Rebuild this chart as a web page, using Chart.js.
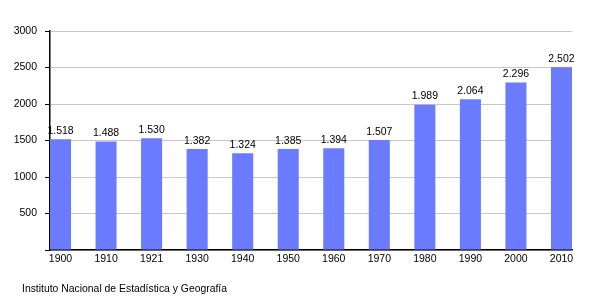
<!DOCTYPE html>
<html>
    <head>
        <title>Población</title>
        <meta charset="utf-8">
        <style>
            body { margin: 0; background: #fff; }
            #wrap { position: relative; width: 600px; height: 300px; }
            #source { position: absolute; left: 22px; top: 283px; font: 10.4px "Liberation Sans", Arial, sans-serif; color: #000; }
        </style>
    </head>
    <body>
        <div id="wrap">
            <canvas id="popChart" width="600" height="300"></canvas>
            <div id="source">Instituto Nacional de Estadística y Geografía</div>
        </div>
        <script src="https://cdn.jsdelivr.net/npm/chart.js"></script>
        <script>
            const years = ['1900', '1910', '1921', '1930', '1940', '1950', '1960', '1970', '1980', '1990', '2000', '2010'];
            const population = [1518, 1488, 1530, 1382, 1324, 1385, 1394, 1507, 1989, 2064, 2296, 2502];
            const yTicks = [0, 500, 1000, 1500, 2000, 2500, 3000];

            const fmt = v => v.toString().replace(/\B(?=(\d{3})+(?!\d))/g, '.');

            // labels above each bar
            const barLabels = {
                id: 'barLabels',
                afterDatasetsDraw(chart) {
                    const ctx = chart.ctx;
                    const meta = chart.getDatasetMeta(0);
                    ctx.save();
                    ctx.font = '10.5px "Liberation Sans", Arial, sans-serif';
                    ctx.fillStyle = '#000';
                    ctx.textAlign = 'center';
                    ctx.textBaseline = 'bottom';
                    meta.data.forEach((bar, i) => {
                        ctx.fillText(fmt(population[i]), bar.x, bar.y - 3);
                    });
                    ctx.restore();
                }
            };

            Chart.defaults.font.family = '"Liberation Sans", Arial, sans-serif';
            Chart.defaults.font.size = 10.5;
            Chart.defaults.color = '#000';

            new Chart(document.getElementById('popChart'), {
                type: 'bar',
                data: {
                    datasets: [{
                        data: population.map((v, i) => ({ x: i, y: v })),
                        backgroundColor: '#6a7bff',
                        barPercentage: 1,
                        categoryPercentage: 0.462
                    }]
                },
                plugins: [barLabels],
                options: {
                    responsive: false,
                    animation: false,
                    layout: { padding: { top: 31, right: 28 } },
                    plugins: { legend: { display: false }, tooltip: { enabled: false } },
                    scales: {
                        x: {
                            type: 'linear',
                            offset: false,
                            min: -0.231,
                            max: years.length - 1 + 0.231,
                            afterFit: s => { s.height = 50; },
                            grid: { display: false, drawTicks: false },
                            border: { color: '#000', width: 1.5 },
                            ticks: {
                                stepSize: 1,
                                includeBounds: false,
                                padding: 3,
                                maxRotation: 0,
                                autoSkip: false,
                                callback: v => years[v]
                            }
                        },
                        y: {
                            min: 0,
                            max: 3000,
                            afterFit: s => { s.width = 50; },
                            afterBuildTicks: s => { s.ticks = yTicks.map(v => ({ value: v })); },
                            grid: { color: '#c8c8c8', tickColor: '#000', tickLength: 5, lineWidth: 1 },
                            border: { color: '#000', width: 1.5 },
                            ticks: {
                                padding: 8,
                                callback: v => v === 0 ? '' : v
                            }
                        }
                    }
                }
            });
        </script>
    </body>
</html>
